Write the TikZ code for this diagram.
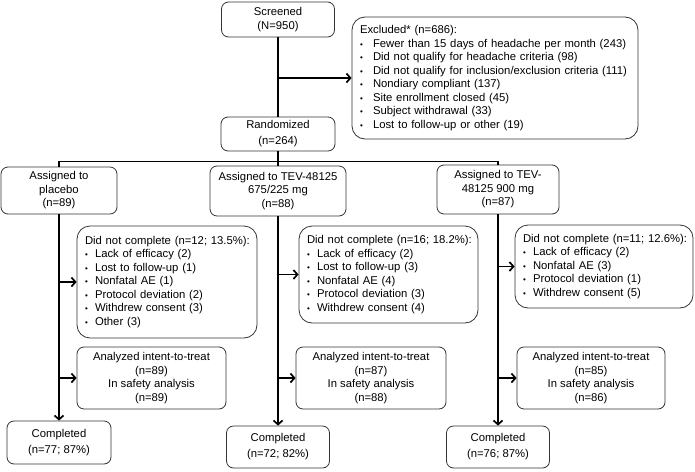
\documentclass[tikz,border=0pt]{standalone}
\usepackage{fontspec}
\setmainfont{Liberation Sans}
\usetikzlibrary{arrows.meta}

% vineta de las listas
\newcommand{\bitem}[2][13pt]{\makebox[#1][l]{\footnotesize\textbullet}#2}

\begin{document}
\begin{tikzpicture}[x=1pt,y=-1pt,
    caja/.style={draw=black!80, line width=0.8pt, rounded corners=7pt,
      align=center, inner sep=0pt, font=\fontsize{11.3}{13.5}\selectfont},
    lista/.style={caja, align=left, rounded corners=13pt},
    flujo/.style={line width=1.7pt},
    flecha/.style={flujo, -{Straight Barb[length=4pt,width=9pt]}}]
  \useasboundingbox (0,0) rectangle (695,471);

  % Cribado y exclusiones
  \node[caja, minimum width=113pt, minimum height=35pt] (screen) at (278,19.5)
    {Screened\\(N=950)};
  \node[lista, minimum width=286pt, minimum height=122pt, text width=270pt] (excl) at (495,78)
    {Excluded* (n=686):\\
     \bitem{Fewer than 15 days of headache per month (243)}\\
     \bitem{Did not qualify for headache criteria (98)}\\
     \bitem{Did not qualify for inclusion/exclusion criteria (111)}\\
     \bitem{Nondiary compliant (137)}\\
     \bitem{Site enrollment closed (45)}\\
     \bitem{Subject withdrawal (33)}\\
     \bitem{Lost to follow-up or other (19)}};
  \node[caja, minimum width=114pt, minimum height=34pt] (rand) at (278,134)
    {Randomized\\[2.5pt](n=264)};

  % Grupos asignados
  \node[caja, minimum width=116pt, minimum height=47pt] (asgA) at (59,190.5)
    {Assigned to\\placebo\\(n=89)};
  \node[caja, minimum width=136pt, minimum height=50pt] (asgB) at (278,191)
    {Assigned to TEV-48125\\675/225 mg\\(n=88)};
  \node[caja, minimum width=122pt, minimum height=49pt] (asgC) at (498,189.5)
    {Assigned to TEV-\\48125 900 mg\\(n=87)};

  % Abandonos
  \node[lista, minimum width=180pt, minimum height=112pt, text width=164pt] (dncA) at (167,282)
    {\mbox{Did not complete (n=12; 13.5\%):}\\
     \bitem[10pt]{Lack of efficacy (2)}\\
     \bitem[10pt]{Lost to follow-up (1)}\\
     \bitem[10pt]{Nonfatal AE (1)}\\
     \bitem[10pt]{Protocol deviation (2)}\\
     \bitem[10pt]{Withdrew consent (3)}\\
     \bitem[10pt]{Other (3)}};
  \node[lista, minimum width=179pt, minimum height=97pt, text width=163pt] (dncB) at (388.5,274.5)
    {\mbox{Did not complete (n=16; 18.2\%):}\\
     \bitem[10pt]{Lack of efficacy (2)}\\
     \bitem[10pt]{Lost to follow-up (3)}\\
     \bitem[10pt]{Nonfatal AE (4)}\\
     \bitem[10pt]{Protocol deviation (3)}\\
     \bitem[10pt]{Withdrew consent (4)}};
  \node[lista, minimum width=178pt, minimum height=83pt, text width=162pt] (dncC) at (604,266.5)
    {\mbox{Did not complete (n=11; 12.6\%):}\\
     \bitem[10pt]{Lack of efficacy (2)}\\
     \bitem[10pt]{Nonfatal AE (3)}\\
     \bitem[10pt]{Protocol deviation (1)}\\
     \bitem[10pt]{Withdrew consent (5)}};

  % Analisis
  \node[caja, minimum width=149pt, minimum height=62pt] (ittA) at (151.5,378)
    {Analyzed intent-to-treat\\(n=89)\\In safety analysis\\(n=89)};
  \node[caja, minimum width=150pt, minimum height=62pt] (ittB) at (371,378)
    {Analyzed intent-to-treat\\(n=87)\\In safety analysis\\(n=88)};
  \node[caja, minimum width=148pt, minimum height=62pt] (ittC) at (591,378)
    {Analyzed intent-to-treat\\(n=85)\\In safety analysis\\(n=86)};

  % Completados
  \node[caja, minimum width=104pt, minimum height=43pt] (doneA) at (59,442.5)
    {Completed\\[2.5pt](n=77; 87\%)};
  \node[caja, minimum width=103pt, minimum height=42pt] (doneB) at (278,447)
    {Completed\\[2.5pt](n=72; 82\%)};
  \node[caja, minimum width=103pt, minimum height=42pt] (doneC) at (498,447)
    {Completed\\[2.5pt](n=76; 87\%)};

  % Conectores superiores
  \coordinate (split) at (278,161.5);
  \draw[flujo] (screen) -- (rand);
  \draw[flecha] (screen.south |- excl.west) -- (excl.west);
  \draw[flujo] (rand) -- (split);
  \draw[flujo] (asgA.north) |- (split) -| (asgC.north);
  \draw[flujo] (split) -- (asgB.north);

  % Ramas de cada grupo
  \foreach \g in {A,B,C} {
    \draw[flecha] (asg\g) -- (done\g);
    \draw[flecha] (asg\g.south |- dnc\g.west) -- (dnc\g.west);
    \draw[flecha] (asg\g.south |- itt\g.west) -- (itt\g.west);
  }
\end{tikzpicture}
\end{document}
